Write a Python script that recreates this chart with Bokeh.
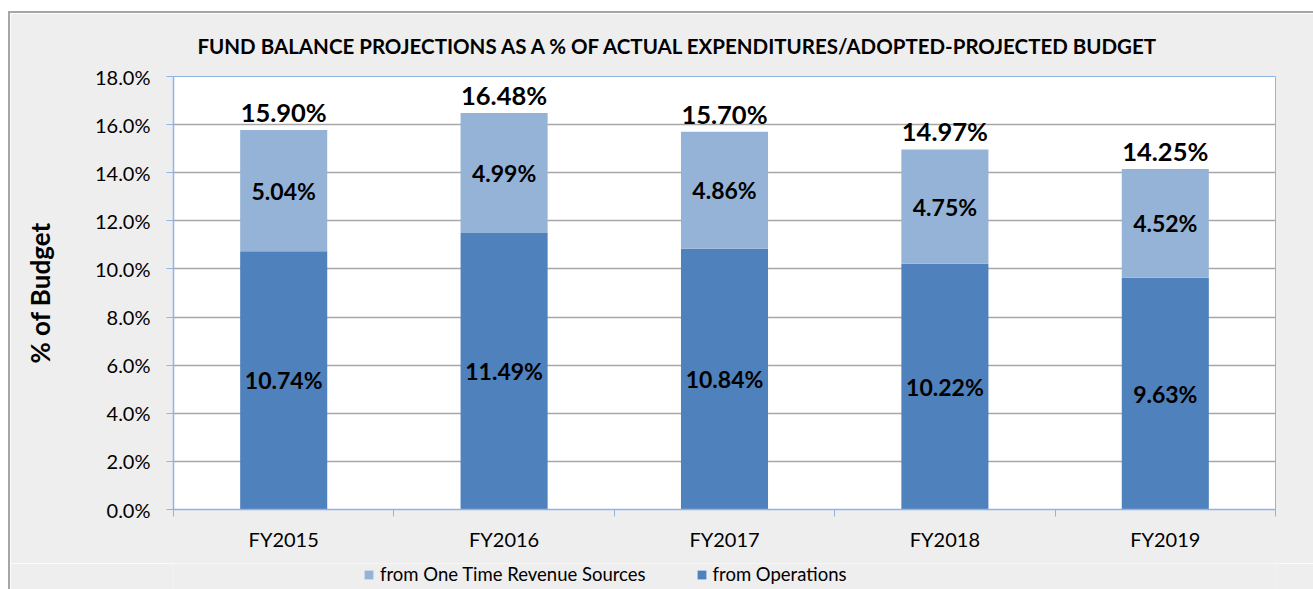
from bokeh.plotting import figure
from bokeh.models import ColumnDataSource, FixedTicker, PrintfTickFormatter, Legend, LegendItem, Range1d, LabelSet
from bokeh.layouts import column
from bokeh.core.properties import value
from bokeh.embed import file_html
from bokeh.resources import INLINE

years = ["FY2015", "FY2016", "FY2017", "FY2018", "FY2019"]
operations = [10.74, 11.49, 10.84, 10.22, 9.63]
one_time = [5.04, 4.99, 4.86, 4.75, 4.52]
totals = [15.90, 16.48, 15.70, 14.97, 14.25]

FONT = "Lato"
BG = "#EEEEEE"
C_OPS = "#4F81BD"
C_ONE = "#95B3D7"
x = [i + 0.5 for i in range(len(years))]
tops = [a + b for a, b in zip(operations, one_time)]
src = ColumnDataSource(dict(
    x=x, ops=operations, one=one_time, tops=tops,
    ops_mid=[v / 2 for v in operations],
    one_mid=[a + b / 2 for a, b in zip(operations, one_time)],
    ops_lbl=["%.2f%%" % v for v in operations],
    one_lbl=["%.2f%%" % v for v in one_time],
    tot_lbl=["%.2f%%" % v for v in totals],
))

p = figure(width=1303, height=550, output_backend="svg", toolbar_location=None,
           x_range=Range1d(0, 5), y_range=Range1d(0, 18),
           min_border_left=163, min_border_right=38, min_border_top=63, min_border_bottom=54)
p.border_fill_color = BG
p.background_fill_color = "white"
p.outline_line_color = "#8EB4E3"
p.outline_line_width = 1

p.title.text = "FUND BALANCE PROJECTIONS AS A % OF ACTUAL EXPENDITURES/ADOPTED-PROJECTED BUDGET"
p.title.align = "left"
p.title.text_font = FONT
p.title.text_font_size = "20.5px"
p.title.text_font_style = "bold"
p.title.text_color = "black"
p.title.offset = 24
p.title.standoff = 37

r_ops = p.vbar(x="x", top="ops", bottom=0, width=0.395, source=src, fill_color=C_OPS, line_color=None)
r_one = p.vbar(x="x", top="tops", bottom="ops", width=0.395, source=src, fill_color=C_ONE, line_color=None)

for col_y, col_t in [("ops_mid", "ops_lbl"), ("one_mid", "one_lbl")]:
    ls = LabelSet(x="x", y=col_y, text=col_t, source=src, text_align="center", text_baseline="middle",
                  text_font=value(FONT), text_font_size=value("23px"), text_font_style="bold",
                  text_color="black")
    p.add_layout(ls)
ls_tot = LabelSet(x="x", y="tops", text="tot_lbl", source=src, text_align="center", text_baseline="bottom",
                  y_offset=3, text_font=value(FONT), text_font_size=value("25.5px"), text_font_style="bold",
                  text_color="black")
p.add_layout(ls_tot)

# y axis
p.yaxis.ticker = FixedTicker(ticks=list(range(0, 19, 2)))
p.yaxis.formatter = PrintfTickFormatter(format="%.1f%%")
p.yaxis.major_label_text_font = FONT
p.yaxis.major_label_text_font_size = "20px"
p.yaxis.major_label_text_color = "black"
p.yaxis.axis_line_color = "#8EB4E3"
p.yaxis.axis_line_width = 1.5
p.yaxis.major_tick_line_color = "#8EB4E3"
p.yaxis.major_tick_out = 7
p.yaxis.major_tick_in = 0
p.yaxis.minor_tick_line_color = None
p.yaxis.axis_label = "% of Budget"
p.yaxis.axis_label_text_font = FONT
p.yaxis.axis_label_text_font_size = "26px"
p.yaxis.axis_label_text_font_style = "bold"
p.yaxis.axis_label_text_color = "black"
p.yaxis.axis_label_standoff = 36
p.yaxis.major_label_standoff = 16

# x axis
p.xaxis.ticker = FixedTicker(ticks=x, minor_ticks=list(range(0, 6)))
p.xaxis.major_label_overrides = {v: yr for v, yr in zip(x, years)}
p.xaxis.major_label_text_font = FONT
p.xaxis.major_label_text_font_size = "20px"
p.xaxis.major_label_text_color = "black"
p.xaxis.axis_line_color = "#8EB4E3"
p.xaxis.axis_line_width = 1.5
p.xaxis.major_tick_line_color = None
p.xaxis.major_tick_out = 0
p.xaxis.major_tick_in = 0
p.xaxis.minor_tick_line_color = "#8EB4E3"
p.xaxis.minor_tick_out = 7
p.xaxis.minor_tick_in = 0
p.xaxis.major_label_standoff = 10

p.xgrid.grid_line_color = None
p.ygrid.grid_line_color = "#A6A6A6"
p.ygrid.grid_line_width = 1.5

# legend strip (same series, drawn off-range so only the legend shows)
q = figure(width=1303, height=26, output_backend="svg", toolbar_location=None,
           x_range=Range1d(100, 101), y_range=Range1d(100, 101),
           min_border=0, min_border_left=0, min_border_right=0, min_border_top=0, min_border_bottom=0)
q.axis.visible = False
q.grid.visible = False
q.outline_line_color = None
q.background_fill_color = BG
q.border_fill_color = BG
d_one = q.vbar(x="x", top="tops", bottom="ops", width=0.395, source=src, fill_color=C_ONE, line_color=None)
d_ops = q.vbar(x="x", top="ops", bottom=0, width=0.395, source=src, fill_color=C_OPS, line_color=None)
legend = Legend(items=[LegendItem(label="from One Time Revenue Sources", renderers=[d_one]),
                       LegendItem(label="from Operations", renderers=[d_ops])],
                orientation="horizontal", location=(190, 4),
                background_fill_alpha=0, border_line_color=None,
                label_text_font=FONT, label_text_font_size="18.5px", label_text_color="black",
                glyph_width=11, glyph_height=11, spacing=50, padding=2, margin=0,
                label_standoff=6)
q.add_layout(legend)

layout = column(p, q, spacing=0)
layout.styles = {"margin-left": "8px", "margin-top": "11px",
                 "border-left": "2px solid #A6A6A6", "border-top": "2px solid #A6A6A6"}
open("out.html", "w").write(file_html(layout, INLINE))
